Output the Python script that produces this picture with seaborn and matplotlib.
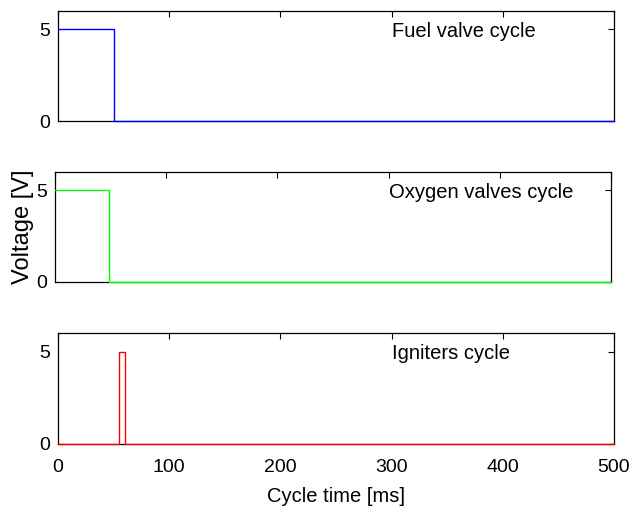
import matplotlib
matplotlib.use("Agg")
import matplotlib.pyplot as plt
import seaborn as sns
import pandas as pd

sns.set_theme(style="white")
plt.rcParams["font.family"] = ["Liberation Sans", "DejaVu Sans"]
plt.rcParams.update({
    "text.color": "black",
    "axes.labelcolor": "black",
    "xtick.color": "black",
    "ytick.color": "black",
})

# Valve / igniter command signals (step-post) over one cycle
fuel_t = [0, 50, 500]
fuel_v = [5, 0, 0]
oxygen_t = [0, 49, 500]
oxygen_v = [5, 0, 0]
igniter_t = [0, 55, 60, 500]
igniter_v = [0, 5, 0, 0]

titles = ["Fuel valve cycle", "Oxygen valves cycle", "Igniters cycle"]
colors = ["#0000ff", "#00ff00", "#ff0000"]
x_ticks = [0, 100, 200, 300, 400, 500]
y_ticks = [0, 5]

W, H = 634, 507
fig = plt.figure(figsize=(W / 100, H / 100), dpi=100)

# axes boxes in pixels: left, top, right, bottom
boxes = [(58, 11, 614, 121), (55, 172, 611, 282), (58, 333, 614, 444)]
series = [(fuel_t, fuel_v), (oxygen_t, oxygen_v), (igniter_t, igniter_v)]

axes = []
for i, ((l, t, r, b), (tt, vv)) in enumerate(zip(boxes, series)):
    ax = fig.add_axes([l / W, 1 - b / H, (r - l) / W, (b - t) / H])
    df = pd.DataFrame({"t": tt, "v": vv})
    sns.lineplot(data=df, x="t", y="v", ax=ax, color=colors[i], lw=1.0,
                 drawstyle="steps-post", zorder=3, clip_on=False)
    ax.set_xlim(0, 500)
    ax.set_ylim(0, 6)
    ax.set_xticks(x_ticks)
    ax.set_yticks(y_ticks)
    ax.tick_params(direction="in", top=True, right=True, length=4, width=0.8,
                   labelsize=14, color="black")
    ax.tick_params(axis="y", pad=6)
    ax.tick_params(axis="x", pad=11)
    for s in ax.spines.values():
        s.set_color("black")
        s.set_linewidth(0.9)
        s.set_zorder(2.5)
    ax.set_xlabel("")
    ax.set_ylabel("")
    if i < 2:
        ax.set_xticklabels([])
    ax.text(300, 5, titles[i], fontsize=14.5, ha="left", va="center_baseline",
            color="black")
    axes.append(ax)

axes[2].set_xlabel("Cycle time [ms]", fontsize=14.5, labelpad=8)
axes[1].set_ylabel("Voltage [V]", fontsize=17, labelpad=1)

fig.savefig("out.png", dpi=100)
